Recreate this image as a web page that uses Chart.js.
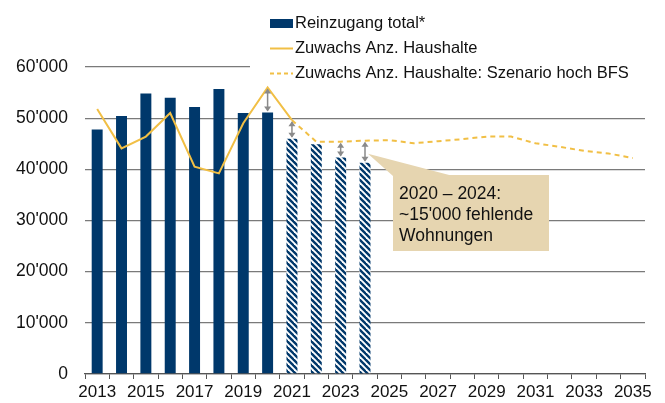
<!DOCTYPE html>
<html>
<head>
<meta charset="utf-8">
<script src="https://cdn.jsdelivr.net/npm/chart.js@4.4.1/dist/chart.umd.min.js"></script>
<style>
  html, body { margin: 0; padding: 0; background: #fff; }
  canvas { display: block; }
</style>
</head>
<body>
<canvas id="wohnungen-chart" width="665" height="403"></canvas>
<script>
// Jahre auf der x-Achse
const years = ['2013','2014','2015','2016','2017','2018','2019','2020','2021','2022','2023','2024',
  '2025','2026','2027','2028','2029','2030','2031','2032','2033','2034','2035'];

// Reinzugang total (ab 2021 Schätzung, schraffiert)
const reinzugang = [47800, 50400, 54800, 54000, 52200, 55700, 51000, 51100, 46000, 44900, 42300, 41300];
const firstEstimateYear = '2021';

// Zuwachs Anzahl Haushalte (bis 2021) und Szenario hoch BFS (ab 2021)
const zuwachs = [51800, 44100, 46400, 51000, 40500, 39200, 49000, 56000, 49600];
const szenarioHoch = [null, null, null, null, null, null, null, null,
  49600, 45400, 45400, 45600, 45700, 45100, 45500, 45900, 46400, 46400, 45100, 44400, 43600, 43100, 42200];

// Jahre mit Pfeil zwischen Haushalten und Reinzugang
const gapYears = ['2020', '2021', '2023', '2024'];

const yTicks = [0, 10000, 20000, 30000, 40000, 50000, 60000];

const NAVY = '#00386b';
const GOLD = '#f1bf45';
const FONT = "'Liberation Sans', Arial, sans-serif";

// Schraffur für die Schätzwerte
function hatchPattern() {
  const s = 6;
  const c = document.createElement('canvas');
  c.width = s; c.height = s;
  const g = c.getContext('2d');
  g.fillStyle = '#ffffff';
  g.fillRect(0, 0, s, s);
  g.strokeStyle = NAVY;
  g.lineWidth = 2.4;
  [-s, 0, s].forEach(k => {
    g.beginPath();
    g.moveTo(k - 1, -1);
    g.lineTo(k + s + 1, s + 1);
    g.stroke();
  });
  return g.createPattern(c, 'repeat');
}

const ctx = document.getElementById('wohnungen-chart');
const hatch = hatchPattern();
const estIdx = years.indexOf(firstEstimateYear);
const barColors = reinzugang.map((v, i) => i >= estIdx ? hatch : NAVY);

function fmt(v) {
  return String(v).replace(/\B(?=(\d{3})+(?!\d))/g, "'");
}

function arrowHead(g, x, y, dir) {
  g.beginPath();
  g.moveTo(x, y);
  g.lineTo(x - 3.5, y + dir * 5);
  g.lineTo(x + 3.5, y + dir * 5);
  g.closePath();
  g.fill();
}

const extras = {
  id: 'extras',
  beforeDatasetsDraw(chart) {
    const g = chart.ctx;
    g.save();
    // Legende mit weissem Hintergrund
    g.fillStyle = '#ffffff';
    g.fillRect(250, 6, 415, 76);
    g.font = '16.5px ' + FONT;
    g.textBaseline = 'middle';
    g.fillStyle = NAVY;
    g.fillRect(270, 19, 23, 9);
    g.strokeStyle = GOLD;
    g.lineWidth = 2;
    g.beginPath(); g.moveTo(270, 48.5); g.lineTo(293, 48.5); g.stroke();
    g.setLineDash([4, 3]);
    g.beginPath(); g.moveTo(270, 73.5); g.lineTo(293, 73.5); g.stroke();
    g.setLineDash([]);
    g.fillStyle = '#111';
    g.fillText('Reinzugang total*', 295, 23);
    g.fillText('Zuwachs Anz. Haushalte', 295, 48);
    g.fillText('Zuwachs Anz. Haushalte: Szenario hoch BFS', 295, 73);
    g.restore();
  },
  afterDatasetsDraw(chart) {
    const g = chart.ctx;
    const xs = chart.scales.x, ys = chart.scales.y;
    g.save();
    // Pfeile zwischen Linie und Balken
    g.strokeStyle = '#8a8a8a';
    g.fillStyle = '#8a8a8a';
    g.lineWidth = 1.5;
    let tip = null;
    gapYears.forEach(yr => {
      const i = years.indexOf(yr);
      const hh = i < estIdx ? zuwachs[i] : szenarioHoch[i];
      const x = xs.getPixelForValue(i);
      const y1 = ys.getPixelForValue(hh);
      const y2 = ys.getPixelForValue(reinzugang[i]);
      g.beginPath(); g.moveTo(x, y1 + 2); g.lineTo(x, y2 - 2); g.stroke();
      arrowHead(g, x, y1 + 1, 1);
      arrowHead(g, x, y2 - 1, -1);
      tip = { x: x + 3, y: (y1 + y2) / 2 + 2 };
    });
    // Kommentar-Box
    const bx = 393, by = 175, bw = 156, bh = 76;
    g.fillStyle = '#e6d5b0';
    g.beginPath();
    g.moveTo(tip.x, tip.y);
    g.lineTo(bx, by + 1);
    g.lineTo(bx + 60, by + 1);
    g.closePath();
    g.fill();
    g.fillRect(bx, by, bw, bh);
    g.fillStyle = '#111';
    g.font = '17.5px ' + FONT;
    g.textBaseline = 'middle';
    g.fillText('2020 \u2013 2024:', bx + 6, by + 19);
    g.fillText("~15'000 fehlende", bx + 6, by + 40);
    g.fillText('Wohnungen', bx + 6, by + 61);
    g.restore();
  }
};

new Chart(ctx, {
  type: 'bar',
  data: {
    labels: years,
    datasets: [{
      type: 'line',
      label: 'Zuwachs Anz. Haushalte',
      data: zuwachs,
      borderColor: GOLD,
      borderWidth: 2,
      pointRadius: 0,
      tension: 0,
      order: 1
    }, {
      type: 'line',
      label: 'Zuwachs Anz. Haushalte: Szenario hoch BFS',
      data: szenarioHoch,
      borderColor: GOLD,
      borderWidth: 2,
      borderDash: [5, 4],
      pointRadius: 0,
      tension: 0,
      order: 1
    }, {
      label: 'Reinzugang total*',
      data: reinzugang,
      backgroundColor: barColors,
      borderWidth: 0,
      barPercentage: 0.45,
      categoryPercentage: 1,
      order: 2
    }]
  },
  options: {
    responsive: false,
    animation: false,
    layout: { padding: { top: 67, right: 20, left: 0, bottom: 0 } },
    plugins: { legend: { display: false }, tooltip: { enabled: false } },
    scales: {
      x: {
        offset: true,
        grid: { offset: true, drawOnChartArea: false, drawTicks: true, tickLength: 5, color: '#555', lineWidth: 1 },
        border: { display: true, color: '#555', width: 1.3 },
        ticks: {
          autoSkip: false, maxRotation: 0, padding: 3,
          color: '#111', font: { family: FONT, size: 17 },
          callback: function (v, i) { return i % 2 === 0 ? years[i] : ''; }
        },
        afterFit: function (scale) { scale.height = 29; }
      },
      y: {
        min: 0, max: 60000,
        afterBuildTicks: function (scale) { scale.ticks = yTicks.map(v => ({ value: v })); },
        grid: { drawTicks: false, color: '#7a7a7a', lineWidth: 1.3 },
        border: { display: false },
        ticks: {
          padding: 17, color: '#111', font: { family: FONT, size: 17.5 },
          callback: function (v) { return fmt(v); }
        },
        afterFit: function (scale) { scale.width = 85; }
      }
    }
  },
  plugins: [extras]
});
</script>
</body>
</html>
